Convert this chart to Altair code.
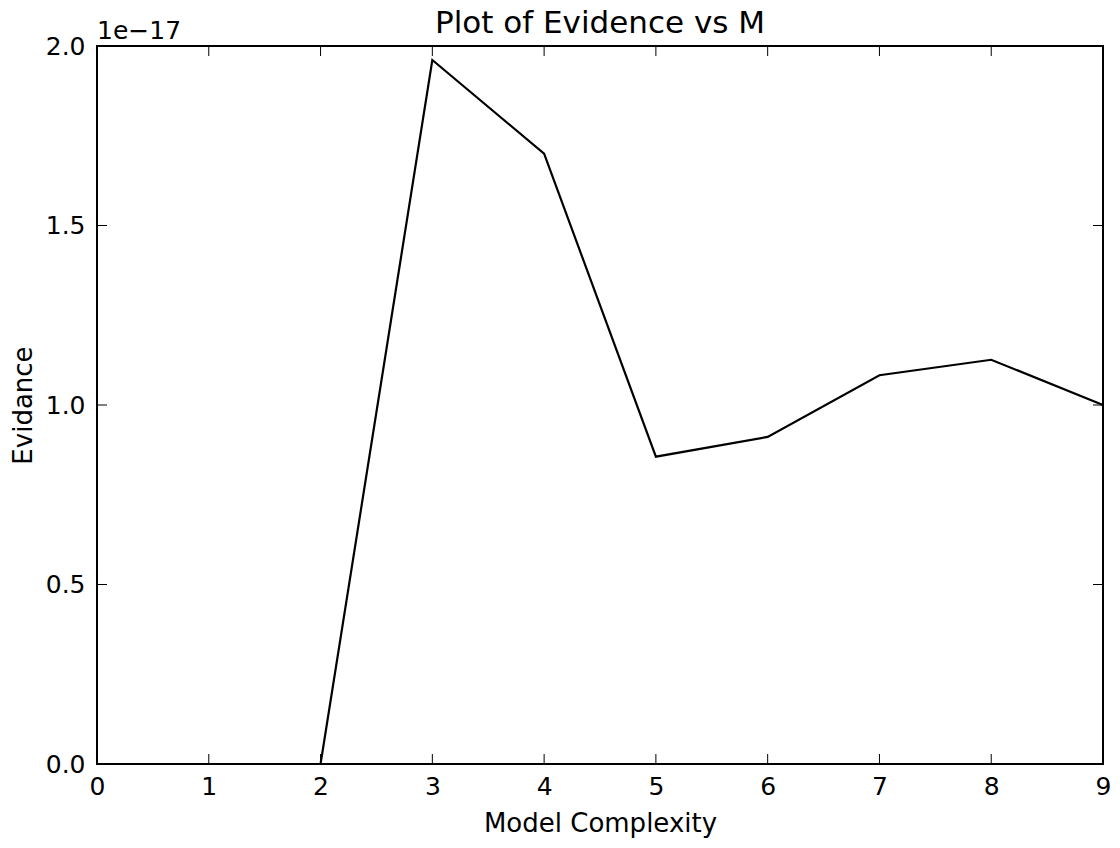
import altair as alt
import pandas as pd

# evidence values, in units of 1e-17
complexity = [0, 1, 2, 3, 4, 5, 6, 7, 8, 9]
evidence = [0.0, 0.0, 0.0, 1.961, 1.70, 0.856, 0.911, 1.083, 1.126, 1.0]
x_ticks = [0, 1, 2, 3, 4, 5, 6, 7, 8, 9]
y_ticks = [0.0, 0.5, 1.0, 1.5, 2.0]

W, H = 1006, 718
TICK = 10
FONT = "DejaVu Sans"

df = pd.DataFrame({"M": complexity, "evidence": evidence})
xt = pd.DataFrame({"M": x_ticks})
yt = pd.DataFrame({"evidence": y_ticks})

xscale = alt.Scale(domain=[0, 9], nice=False, zero=False)
yscale = alt.Scale(domain=[0, 2], nice=False)

line = alt.Chart(df).mark_line(color="black", strokeWidth=2.2).encode(
    x=alt.X("M:Q", scale=xscale, title="Model Complexity",
            axis=alt.Axis(values=x_ticks, format="d", labelPadding=10, titlePadding=11)),
    y=alt.Y("evidence:Q", scale=yscale, title="Evidance",
            axis=alt.Axis(values=y_ticks, format=".1f", labelPadding=12, titlePadding=9)),
)

# inward ticks on all four sides
x_bottom = alt.Chart(xt).mark_rule(color="black", strokeWidth=1).encode(
    x=alt.X("M:Q", scale=xscale), y=alt.value(H), y2=alt.value(H - TICK))
x_top = alt.Chart(xt).mark_rule(color="black", strokeWidth=1).encode(
    x=alt.X("M:Q", scale=xscale), y=alt.value(0), y2=alt.value(TICK))
y_left = alt.Chart(yt).mark_rule(color="black", strokeWidth=1).encode(
    y=alt.Y("evidence:Q", scale=yscale), x=alt.value(0), x2=alt.value(TICK))
y_right = alt.Chart(yt).mark_rule(color="black", strokeWidth=1).encode(
    y=alt.Y("evidence:Q", scale=yscale), x=alt.value(W), x2=alt.value(W - TICK))

# scale multiplier above the y axis, and the chart title
offset_label = alt.Chart(pd.DataFrame({"s": ["1e\u221217"]})).mark_text(
    align="left", baseline="alphabetic", font=FONT, fontSize=25, color="black"
).encode(text="s:N", x=alt.value(0), y=alt.value(-7))

title = alt.Chart(pd.DataFrame({"s": ["Plot of Evidence vs M"]})).mark_text(
    align="center", baseline="alphabetic", font=FONT, fontSize=31, color="black"
).encode(text="s:N", x=alt.value(W / 2), y=alt.value(-13))

chart = alt.layer(line, x_bottom, x_top, y_left, y_right, offset_label, title).properties(
    width=W, height=H,
    autosize=alt.AutoSizeParams(type="none"),
    padding={"left": 89, "top": 38, "right": 9, "bottom": 76},
).configure_view(
    stroke="black", strokeWidth=2
).configure_axis(
    grid=False, ticks=False, domain=False, labelFlush=False,
    labelFont=FONT, titleFont=FONT, labelFontSize=25, titleFontSize=26,
    labelColor="black", titleColor="black", titleFontWeight="normal",
)

chart.save("out.html", embed_options={"renderer": "svg", "actions": False})
